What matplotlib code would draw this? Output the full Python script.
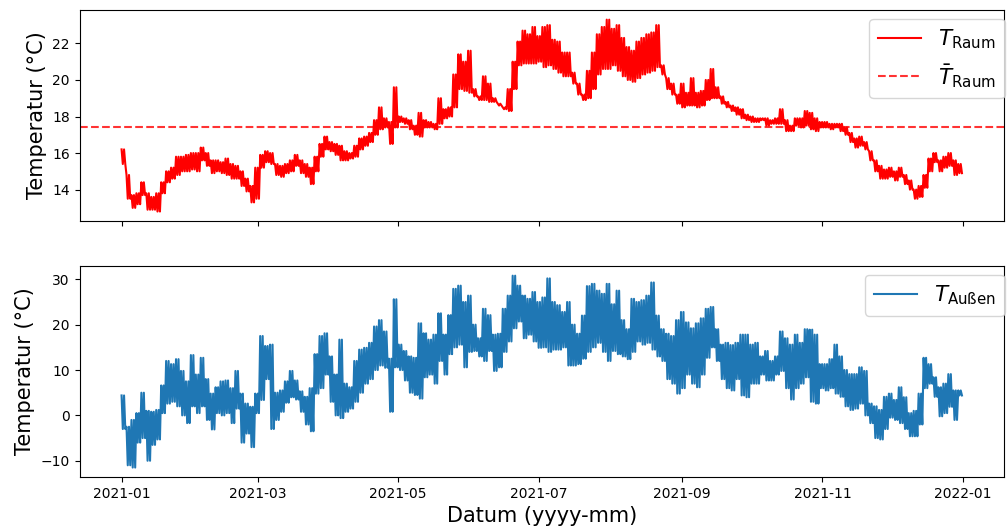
import numpy as np
import pandas as pd
import matplotlib
matplotlib.use("Agg")
import matplotlib.pyplot as plt
import matplotlib.dates as mdates

# Raumtemperatur: Höchst- und Tiefstwerte je Ablesung (ca. alle 2 Tage)
raum_max = [16.2, 14.8, 13.7, 13.8, 14.4, 13.8, 13.6, 13.8, 14.4, 15.0,
            15.2, 15.8, 15.8, 15.9, 16.0, 16.0, 16.3, 16.0, 15.6, 15.6,
            15.5, 15.7, 15.4, 15.3, 15.0, 14.6, 14.2, 15.2, 15.9, 16.1,
            16.0, 15.4, 15.3, 15.4, 15.6, 15.9, 15.6, 15.4, 15.2, 15.8,
            16.5, 16.9, 16.6, 16.5, 16.4, 16.1, 16.0, 16.4, 16.8, 16.9,
            17.1, 17.8, 18.5, 17.9, 17.7, 19.6, 18.0, 17.9, 17.8, 17.5,
            18.2, 17.8, 17.7, 17.6, 19.0, 18.4, 18.5, 20.3, 21.4, 21.0,
            21.6, 19.5, 19.1, 20.2, 19.8, 19.0, 18.7, 18.5, 19.5, 21.0,
            22.1, 22.7, 22.5, 22.9, 22.4, 22.9, 23.0, 22.2, 22.1, 21.5,
            21.5, 20.4, 19.8, 19.2, 20.5, 21.5, 22.5, 22.9, 23.3, 22.8,
            23.0, 22.3, 21.8, 21.6, 22.1, 22.3, 22.5, 22.6, 23.0, 20.8,
            20.1, 19.8, 19.2, 19.8, 19.3, 20.1, 19.3, 19.4, 20.0, 20.6,
            19.6, 19.1, 18.8, 18.6, 18.5, 18.4, 18.1, 18.0, 17.9, 17.9,
            17.9, 17.8, 17.9, 18.4, 17.8, 17.5, 17.9, 17.9, 18.3, 18.2,
            17.9, 17.7, 17.7, 17.6, 17.6, 17.6, 17.4, 17.1, 16.8, 16.9,
            16.6, 16.1, 15.6, 15.3, 15.1, 15.2, 15.0, 15.2, 14.8, 14.5,
            14.0, 14.2, 14.8, 15.7, 16.0, 15.6, 15.8, 16.0, 15.6, 15.4]
raum_min = [15.4, 13.5, 13.0, 13.2, 13.7, 12.9, 12.9, 12.8, 13.8, 14.4,
            14.6, 14.8, 15.0, 15.0, 15.1, 15.0, 15.6, 15.3, 14.9, 15.0,
            14.9, 14.8, 14.6, 14.6, 14.2, 13.9, 13.3, 13.5, 15.2, 15.5,
            15.4, 14.8, 14.7, 14.9, 15.0, 15.3, 14.9, 14.7, 14.3, 15.0,
            15.8, 16.2, 16.1, 15.9, 15.6, 15.6, 15.7, 15.8, 16.2, 16.4,
            16.6, 17.0, 17.3, 17.4, 16.5, 17.4, 17.7, 17.6, 17.3, 17.0,
            16.9, 17.4, 17.4, 17.3, 17.6, 17.9, 18.0, 18.5, 19.5, 19.4,
            19.3, 19.1, 18.9, 18.9, 18.8, 18.8, 18.6, 18.4, 18.3, 19.5,
            20.8, 20.9, 20.9, 20.9, 21.0, 20.7, 20.8, 20.6, 20.4, 20.2,
            20.2, 19.8, 19.2, 18.9, 19.0, 19.5, 20.3, 20.6, 20.6, 20.8,
            20.5, 20.2, 20.0, 19.9, 20.1, 20.3, 20.4, 20.5, 20.7, 20.3,
            19.5, 19.2, 18.7, 18.5, 18.6, 18.6, 18.5, 18.6, 18.9, 19.0,
            19.0, 18.7, 18.5, 18.3, 18.1, 17.9, 17.8, 17.7, 17.7, 17.8,
            17.5, 17.6, 17.6, 17.6, 17.2, 17.2, 17.5, 17.4, 17.5, 17.3,
            17.2, 17.4, 17.4, 17.3, 17.4, 17.2, 17.0, 16.6, 16.3, 16.4,
            16.2, 15.6, 15.0, 14.6, 14.6, 14.7, 14.5, 14.7, 14.3, 14.0,
            13.5, 13.6, 14.1, 15.0, 15.5, 15.0, 15.2, 15.3, 14.8, 14.9]
raum_mittel = 17.45

# Außentemperatur: Höchst- und Tiefstwerte je Ablesung
aussen_max = [4.4, -2.5, -1, 0.5, 5, 1, 0.8, 1.2, 6.6, 12,
              11.3, 12.4, 9.8, 7.5, 13.3, 9, 12.7, 8, 4.8, 6.2,
              7.5, 7.7, 6, 9.8, 4.8, 2.6, 1.9, 4.8, 17.5, 15.3,
              15.6, 5, 5.5, 7.5, 9.8, 7.7, 5.3, 4.1, 6, 13.5,
              17.5, 18.1, 13, 9, 16.7, 7, 6.2, 12, 14.5, 14.9,
              16, 19.6, 21, 18.5, 12.5, 25.6, 15.6, 14.2, 13, 12.7,
              20.3, 18.1, 16.7, 17.8, 22.5, 17.8, 22.1, 27.9, 28.6, 25,
              26.4, 20, 17, 23.5, 22.1, 17.8, 18, 23.5, 26.4, 30.8,
              28.6, 26.4, 25.7, 27.2, 25, 26, 30.2, 25, 24.3, 22.8,
              25, 20, 18, 22, 28.5, 29, 27.5, 26.8, 29, 24.5,
              27.5, 21, 19, 25.7, 25, 25.4, 26.4, 29.3, 22, 19,
              18, 17.5, 21, 22.8, 20.5, 19.2, 20.3, 21.4, 23.5, 23.9,
              19, 15.6, 16, 15.5, 16, 17.8, 17.8, 15.6, 16, 13,
              14.2, 12, 13, 18.5, 17, 15.6, 17.8, 16, 19, 18.9,
              17.8, 11.3, 11.3, 12.4, 15.6, 13, 10, 9.1, 9.1, 10.6,
              9.8, 2.6, 2, 1.2, 4.1, 4.8, 3.4, 6.2, 4, 0.5,
              1, 4.8, 12.7, 11.3, 8.4, 6.2, 7, 9.1, 5.5, 5.5]
aussen_min = [-3, -11, -11.5, -6, -5, -10, -6.5, -5.3, 0.5, 2.6,
              3, 2, 0, -1.7, 2, 0.5, 2, -1, -3.1, 0.5,
              0, 0.5, -1.7, 1.5, -6, -4, -7, 0.5, 3.4, 8,
              -3, -1, 0.8, 2.8, 4, 3.5, 0.8, -2, -3.5, 4.8,
              6, 9, 3, 0, -0.6, 0.8, 1.5, 3, 5, 7,
              8, 10, 11, 10.5, 0.8, 10.6, 10, 7.7, 5, 4.5,
              3.7, 8.4, 9, 7, 12, 9, 13.5, 15, 15.6, 10.6,
              14, 14.2, 13, 12, 14.2, 9.8, 10.6, 14, 16.3, 19.2,
              20.7, 17, 17.8, 16.3, 14.9, 15, 14, 14.5, 14.5, 15,
              11, 11, 11.3, 12.5, 14, 15, 16, 14, 12, 14.2,
              13.5, 13, 12.4, 14, 16.3, 15.6, 16, 14.5, 13, 12,
              8, 7, 4.8, 6, 9, 7, 6.2, 9, 12.7, 15,
              12, 8, 6, 5.5, 8, 4.4, 4, 7, 7, 9,
              7.7, 7.7, 9, 9.8, 6, 3.5, 6, 7, 8.4, 3,
              2.6, 6, 5.5, 6, 4.8, 4.1, 2, 1.2, 1.5, 2.6,
              0, -1.7, -5, -5.3, -3, -0.5, -1, -1.7, -3, -4.6,
              -4.6, -2, 6, 7, 4.1, -0.2, 0.5, 1.9, -1, 4.4]

# jede Ablesung deckt ~2 Tage ab -> zwei Tagesgänge (max, min, max, min)
t_raum = np.column_stack([raum_max, raum_min, raum_max, raum_min]).ravel()
t_aussen = np.column_stack([aussen_max, aussen_min, aussen_max, aussen_min]).ravel()
zeit = pd.date_range("2021-01-01", "2021-12-31 12:00", periods=len(t_raum))

fig, (ax1, ax2) = plt.subplots(2, 1, sharex=True, figsize=(10.07, 5.29), dpi=100)
fig.subplots_adjust(left=0.079, right=0.997, top=0.981, bottom=0.098, hspace=0.213)

ax1.plot(zeit, t_raum, color="red", lw=1.5, label=r"$T_\mathrm{Raum}$")
ax1.axhline(raum_mittel, color="red", ls="--", lw=1.5, alpha=0.8,
            label=r"$\bar{T}_\mathrm{Raum}$")
ax1.set_ylabel("Temperatur (°C)", fontsize=15)
ax1.legend(loc="upper right", fontsize=15.5, bbox_to_anchor=(1.01, 1.0),
           borderaxespad=0.4)

ax2.plot(zeit, t_aussen, color="C0", lw=1.5, label=r"$T_\mathrm{Außen}$")
ax2.set_ylabel("Temperatur (°C)", fontsize=15)
ax2.set_xlabel("Datum (yyyy-mm)", fontsize=15)
ax2.legend(loc="upper right", fontsize=15.5, bbox_to_anchor=(1.01, 1.0),
           borderaxespad=0.4)

ax2.xaxis.set_major_locator(mdates.MonthLocator(bymonth=[1, 3, 5, 7, 9, 11]))
ax2.xaxis.set_major_formatter(mdates.DateFormatter("%Y-%m"))

fig.savefig("out.png", dpi=100)
